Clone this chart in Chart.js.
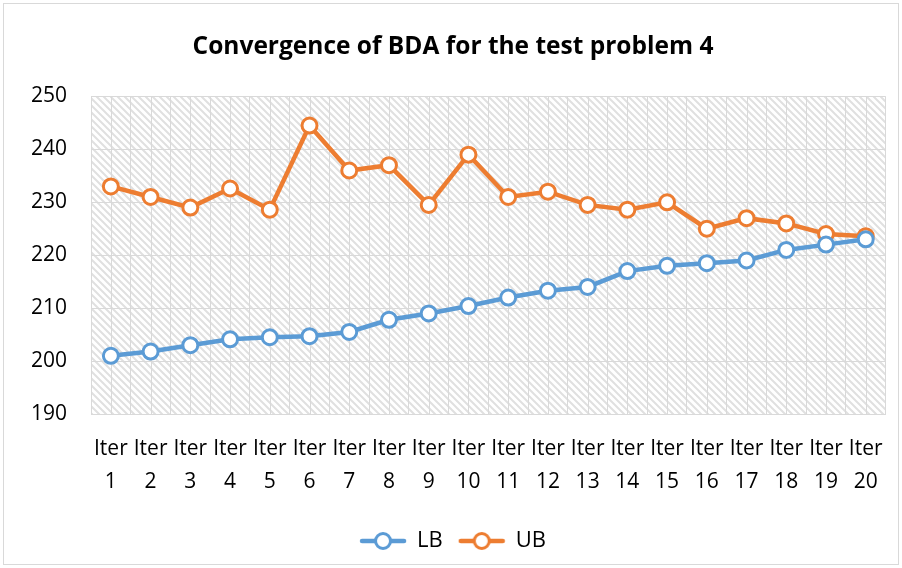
<!DOCTYPE html>
<html>
<head>
<meta charset="utf-8">
<script src="https://cdn.jsdelivr.net/npm/chart.js@4.4.1/dist/chart.umd.min.js"></script>
<style>
html,body{margin:0;padding:0;background:#fff;}
#wrap{width:902px;height:568px;position:relative;}
</style>
</head>
<body>
<div id="wrap"><canvas id="c" width="902" height="568"></canvas></div>
<script>
const iterations = ["1","2","3","4","5","6","7","8","9","10","11","12","13","14","15","16","17","18","19","20"];
const lbValues = [201, 201.8, 203, 204.1, 204.5, 204.7, 205.5, 207.8, 209, 210.4, 212, 213.3, 214, 217, 218, 218.5, 219, 221, 222, 223];
const ubValues = [233, 231, 229, 232.6, 228.6, 244.5, 236, 237, 229.5, 239, 231, 232, 229.5, 228.6, 230, 225, 227, 226, 224, 223.6];
const yTicks = [190, 200, 210, 220, 230, 240, 250];

const FONT = "'Open Sans', Carlito, Calibri, sans-serif";
const LB_COLOR = "#5B9BD5";
const UB_COLOR = "#ED7D31";
const GRID = "#d9d9d9";

function legendIcon(color){
  const c = document.createElement('canvas');
  c.width = 48; c.height = 22;
  const g = c.getContext('2d');
  g.strokeStyle = color; g.lineWidth = 4.5; g.lineCap = 'round';
  g.beginPath(); g.moveTo(3,11); g.lineTo(45,11); g.stroke();
  g.fillStyle = '#fff'; g.lineWidth = 3;
  g.beginPath(); g.arc(24,11,7.5,0,Math.PI*2); g.fill(); g.stroke();
  return c;
}

const patCanvas = (function(){
  const s = 7;
  const c = document.createElement('canvas');
  c.width = s; c.height = s;
  const g = c.getContext('2d');
  g.fillStyle = '#ffffff'; g.fillRect(0,0,s,s);
  g.strokeStyle = '#e0e0e0'; g.lineWidth = 2;
  g.beginPath();
  g.moveTo(-1,-1); g.lineTo(s+1,s+1);
  g.moveTo(-1,s-1); g.lineTo(1,s+1);
  g.moveTo(s-1,-1); g.lineTo(s+1,1);
  g.stroke();
  return c;
})();

const bgPlugin = {
  id: 'bg',
  beforeDraw(chart){
    const {ctx, chartArea:a} = chart;
    ctx.save();
    ctx.fillStyle = '#fff';
    ctx.fillRect(0,0,chart.width,chart.height);
    ctx.strokeStyle = '#d9d9d9'; ctx.lineWidth = 1;
    ctx.strokeRect(3.5,3.5,chart.width-7,chart.height-7);
    ctx.fillStyle = ctx.createPattern(patCanvas,'repeat');
    ctx.fillRect(a.left,a.top,a.right-a.left,a.bottom-a.top);
    ctx.restore();
  },
  beforeDatasetsDraw(chart){
    const {ctx, chartArea:a, scales} = chart;
    ctx.save();
    ctx.strokeStyle = GRID; ctx.lineWidth = 1;
    ctx.beginPath();
    iterations.forEach((_,i)=>{
      const x = Math.round(scales.x.getPixelForValue(i)) + 0.5;
      ctx.moveTo(x,a.top); ctx.lineTo(x,a.bottom);
    });
    ctx.stroke();
    ctx.restore();
  }
};

const lbIcon = legendIcon(LB_COLOR);
const ubIcon = legendIcon(UB_COLOR);

new Chart(document.getElementById('c'), {
  type: 'line',
  data: {
    labels: iterations.map(n => ["Iter", n]),
    datasets: [
      {label:'LB', data: lbValues, borderColor: LB_COLOR, backgroundColor:'#fff', borderWidth: 4.5,
       pointRadius: 7.5, pointBorderWidth: 3, pointBackgroundColor:'#fff', pointBorderColor: LB_COLOR, tension: 0},
      {label:'UB', data: ubValues, borderColor: UB_COLOR, backgroundColor:'#fff', borderWidth: 4.5,
       pointRadius: 7.5, pointBorderWidth: 3, pointBackgroundColor:'#fff', pointBorderColor: UB_COLOR, tension: 0}
    ]
  },
  options: {
    responsive: false,
    animation: false,
    devicePixelRatio: 1,
    layout: {padding: {left: 20, right: 16, top: 22, bottom: 6}},
    plugins: {
      title: {display: true, text: 'Convergence of BDA for the test problem 4', color: '#000',
              font: {family: FONT, size: 24.5, weight: 'bold', lineHeight: 1.2}, padding: {top: 10, bottom: 35}},
      legend: {position: 'bottom',
               labels: {color:'#000', font:{family: FONT, size: 22}, usePointStyle: true, pointStyleWidth: 46, padding: 16,
                 generateLabels(chart){
                   return chart.data.datasets.map((d,i)=>({text:d.label, pointStyle: i===0?lbIcon:ubIcon,
                     fillStyle:'#fff', strokeStyle:d.borderColor, lineWidth:0, datasetIndex:i, hidden:false}));
                 }}},
      tooltip: {enabled: false}
    },
    scales: {
      x: {
        offset: true,
        afterFit(scale){ scale.height = 100; },
        grid: {offset: true, color: GRID, drawTicks: false},
        border: {color: GRID},
        ticks: {color:'#000', font:{family: FONT, size: 21, lineHeight: 1.57}, maxRotation: 0, autoSkip: false, padding: 19}
      },
      y: {
        min: 190, max: 250,
        afterBuildTicks(scale){ scale.ticks = yTicks.map(v=>({value:v})); },
        afterFit(scale){ scale.width = 71; },
        grid: {color: GRID, drawTicks: false},
        border: {color: GRID},
        ticks: {color:'#000', font:{family: FONT, size: 21}, padding: 24}
      }
    }
  },
  plugins: [bgPlugin]
});
</script>
</body>
</html>
